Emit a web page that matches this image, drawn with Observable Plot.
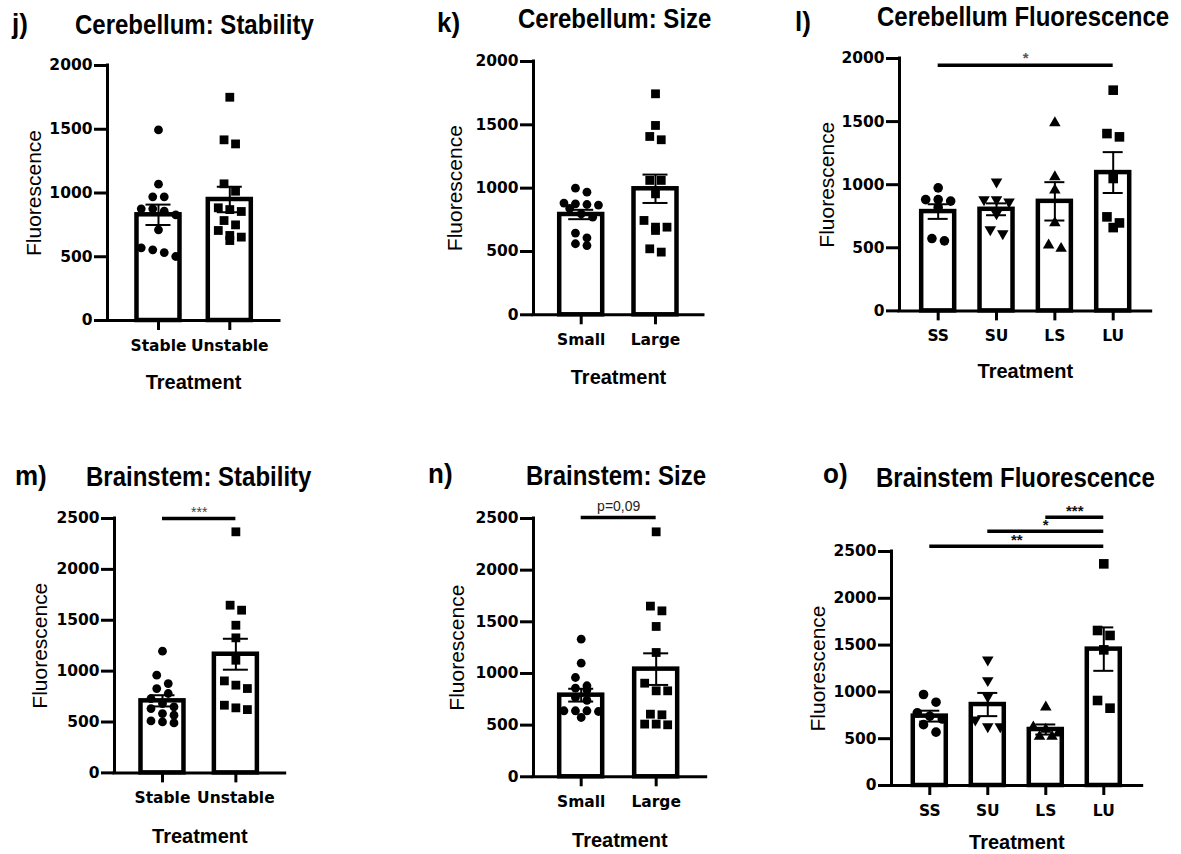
<!DOCTYPE html>
<html><head><meta charset="utf-8">
<script src="https://cdn.jsdelivr.net/npm/d3@7"></script>
<script src="https://cdn.jsdelivr.net/npm/@observablehq/plot@0.6"></script>
<style>
body{margin:0;background:#fff;}
#fig{position:relative;width:1181px;height:854px;background:#fff;overflow:hidden;}
.panel{position:absolute;}
.ttl{position:absolute;font-family:"Liberation Sans",Arial,sans-serif;line-height:1;white-space:nowrap;color:#000;}
</style></head><body><div id="fig"></div>
<script>
// ---------------- DATA ----------------
// y-axis ticks
const ticks2000 = [0, 500, 1000, 1500, 2000];
const ticks2500 = [0, 500, 1000, 1500, 2000, 2500];

// j) Cerebellum: Stability
const jCategories = ["Stable", "Unstable"];
const jStable = [1495, 1069, 970, 970, 876, 876, 857, 829, 711, 570, 554, 533, 502];
const jUnstable = [1751, 1417, 1385, 1072, 1014, 884, 870, 855, 784, 750, 706, 667, 654, 627];
const jMeans = [829, 949];
const jSEM = [80, 100];

// k) Cerebellum: Size
const kCategories = ["Small", "Large"];
const kSmall = [1000, 968, 882, 876, 871, 866, 840, 797, 771, 645, 608, 561, 547];
const kLarge = [1745, 1495, 1408, 1382, 1061, 1061, 955, 745, 692, 692, 666, 521, 495];
const kMeans = [792, 995];
const kSEM = [37, 112];

// l) Cerebellum Fluorescence
const lCategories = ["SS", "SU", "LS", "LU"];
const lSS = [975, 882, 882, 870, 820, 573, 555];
const lSU = [1022, 882, 882, 864, 771, 645, 613];
const lLS = [1490, 1062, 956, 697, 520, 494];
const lLU = [1749, 1405, 1379, 1049, 745, 697, 660];
const lMeans = [787, 805, 868, 1096];
const lSEM = [58, 47, 152, 162];
const lBracketFrom = ["SS"];
const lBracketTo = ["LU"];
const lBracketLevel = [1947];
const lBracketLabel = ["*"];

// m) Brainstem: Stability
const mCategories = ["Stable", "Unstable"];
const mStable = [1196, 960, 878, 829, 780, 730, 681, 649, 632, 583, 567, 511, 501, 491];
const mUnstable = [2369, 1648, 1599, 1451, 1327, 1107, 904, 862, 829, 665, 639, 622];
const mMeans = [708, 1166];
const mSEM = [55, 152];
const mBracketFrom = ["Stable"];
const mBracketTo = ["Unstable"];
const mBracketLevel = [2500];
const mBracketLabel = ["***"];

// n) Brainstem: Size
const nCategories = ["Small", "Large"];
const nSmall = [1332, 1100, 961, 881, 858, 840, 768, 740, 639, 639, 639, 632, 574];
const nLarge = [2371, 1652, 1606, 1455, 1203, 906, 832, 832, 606, 600, 510, 510, 503];
const nMeans = [790, 1042];
const nSEM = [62, 153];
const nBracketFrom = ["Small"];
const nBracketTo = ["Large"];
const nBracketLevel = [2510];
const nBracketLabel = ["p=0,09"];

// o) Brainstem Fluorescence
const oCategories = ["SS", "SU", "LS", "LU"];
const oSS = [972, 890, 776, 740, 710, 650, 570];
const oSU = [1342, 1122, 950, 702, 630, 630];
const oLS = [837, 623, 600, 560, 523, 523];
const oLU = [2368, 1656, 1603, 1449, 908, 826];
const oMeans = [741, 865, 598, 1457];
const oSEM = [58, 124, 54, 232];
const oBracketFrom = ["LS", "SU", "SS"];
const oBracketTo = ["LU", "LU", "LU"];
const oBracketLevel = [2866, 2717, 2557];
const oBracketLabel = ["***", "*", "**"];

// ---------------- SYMBOLS ----------------
const symCircle = {draw(ctx, size) { const r = Math.sqrt(size / Math.PI); ctx.moveTo(r, 0); ctx.arc(0, 0, r, 0, 2 * Math.PI); ctx.closePath(); }};
const symSquare = {draw(ctx, size) { const r = Math.sqrt(size / Math.PI); ctx.rect(-r, -r, 2 * r, 2 * r); }};
const symTriUp = {draw(ctx, size) { const r = Math.sqrt(size / Math.PI); const s = 2.4 * r, h = s * Math.sqrt(3) / 2; ctx.moveTo(0, -2 * h / 3); ctx.lineTo(s / 2, h / 3); ctx.lineTo(-s / 2, h / 3); ctx.closePath(); }};
const symTriDown = {draw(ctx, size) { const r = Math.sqrt(size / Math.PI); const s = 2.4 * r, h = s * Math.sqrt(3) / 2; ctx.moveTo(0, 2 * h / 3); ctx.lineTo(s / 2, -h / 3); ctx.lineTo(-s / 2, -h / 3); ctx.closePath(); }};

const LIB = "Liberation Sans, Arial, sans-serif";
const DJ = "DejaVu Sans, Verdana, sans-serif";

// Prism-like scatter layout: points of similar value share a row, spread horizontally
function layoutGroup(values, pxY, spacing, thresh, maxRow) {
  const sorted = [...values].sort((a, b) => b - a);
  const rows = [];
  let row = [];
  for (const v of sorted) {
    if (row.length && ((row[0] - v) * pxY > thresh || row.length >= maxRow)) { rows.push(row); row = []; }
    row.push(v);
  }
  if (row.length) rows.push(row);
  const out = [];
  for (const r of rows) r.forEach((v, i) => out.push({v, off: (i - (r.length - 1) / 2) * spacing}));
  return out;
}

const fig = document.getElementById("fig");

function drawPanel(cfg) {
  const {axisX, yTop, w, h, padL, padR, cats, groups, symbols, means, sems, ymax, yTicks,
         flDx, trDy, br, r, spacing, maxRow, barPx, capPx, brFont} = cfg;
  const n = cats.length;
  const mL = 100, mR = 24, mT = 56, mB = 84;
  const x0 = 1 - padL, x1 = n + padR;
  const pxX = w / (x1 - x0), pxY = h / ymax;
  const barHalf = barPx / 2 / pxX, capHalf = capPx / pxX;
  const bars = cats.map((c, i) => ({i: i + 1, mean: means[i], lo: means[i] - sems[i], hi: means[i] + sems[i]}));
  const idx = c => cats.indexOf(c) + 1;
  const dotMarks = groups.map((vals, gi) => {
    const pts = layoutGroup(vals, pxY, spacing, 9, maxRow).map(p => ({x: gi + 1 + p.off / pxX, y: p.v}));
    return Plot.dot(pts, {x: d => d.x, y: d => d.y, r, symbol: symbols[gi], fill: "black", stroke: "none"});
  });
  const brData = br ? br.from.map((f, k) => ({from: idx(f), to: idx(br.to[k]), level: br.level[k], label: br.label[k]})) : [];
  const svg = Plot.plot({
    width: w + mL + mR, height: h + mT + mB,
    marginLeft: mL, marginRight: mR, marginTop: mT, marginBottom: mB,
    style: {background: "transparent", overflow: "visible", color: "black"},
    x: {domain: [x0, x1], axis: null},
    y: {domain: [0, ymax], axis: null},
    marks: [
      Plot.rect(bars, {x1: d => d.i - barHalf, x2: d => d.i + barHalf, y1: 0, y2: d => d.mean, fill: "white", stroke: "black", strokeWidth: 4.5}),
      ...dotMarks,
      Plot.ruleX(bars, {x: d => d.i, y1: d => d.lo, y2: d => d.hi, strokeWidth: 2}),
      Plot.ruleY(bars, {y: d => d.hi, x1: d => d.i - capHalf, x2: d => d.i + capHalf, strokeWidth: 2}),
      Plot.ruleY(bars, {y: d => d.lo, x1: d => d.i - capHalf, x2: d => d.i + capHalf, strokeWidth: 2}),
      Plot.ruleY([0], {strokeWidth: 3, strokeLinecap: "square"}),
      Plot.ruleX([x0], {y1: 0, y2: ymax, strokeWidth: 3, strokeLinecap: "square"}),
      Plot.axisY({ticks: yTicks, tickSize: 13, tickPadding: 2, strokeWidth: 3, tickFormat: d => String(d), label: null,
                  fontFamily: DJ, fontWeight: "bold", fontSize: 15.5}),
      Plot.axisX({ticks: cats.map((c, i) => i + 1), tickFormat: i => cats[i - 1], tickSize: 10, tickPadding: 9, strokeWidth: 3, label: null,
                  fontFamily: DJ, fontWeight: "bold", fontSize: 15.5}),
      Plot.text(["Fluorescence"], {frameAnchor: "left", rotate: -90, dx: flDx, text: d => d, textAnchor: "middle", lineAnchor: "middle",
                  fontFamily: LIB, fontSize: 21, fontWeight: "normal", fill: "black"}),
      Plot.text(["Treatment"], {frameAnchor: "bottom", dy: trDy, text: d => d, textAnchor: "middle", lineAnchor: "middle",
                  fontFamily: LIB, fontSize: 20, fontWeight: "bold", fill: "black"}),
      Plot.ruleY(brData, {y: d => d.level, x1: d => d.from, x2: d => d.to, strokeWidth: 3.5}),
      Plot.text(brData, {x: d => (d.from + d.to) / 2, y: d => d.level, text: d => d.label, lineAnchor: "bottom",
                         dy: brFont.dy, fontFamily: LIB, fontSize: brFont.size, fontWeight: brFont.weight, fill: brFont.fill})
    ]
  });
  const div = document.createElement("div");
  div.className = "panel";
  div.style.left = (axisX - mL) + "px";
  div.style.top = (yTop - mT) + "px";
  div.style.width = (w + mL + mR) + "px";
  div.appendChild(svg);
  fig.appendChild(div);
}

function addText(txt, left, baseline, fs, weight, sy) {
  const d = document.createElement("div");
  d.className = "ttl";
  d.textContent = txt;
  d.style.left = left + "px";
  d.style.top = (baseline - 0.8465 * fs) + "px";
  d.style.fontSize = fs + "px";
  d.style.fontWeight = weight;
  if (sy) { d.style.transform = `scaleY(${sy})`; d.style.transformOrigin = "0 84.65%"; }
  fig.appendChild(d);
}

const two = {r: 4.4, spacing: 11.5, maxRow: 4, barPx: 43, capPx: 12.5};
const four = {r: 4.8, spacing: 12.5, maxRow: 3, barPx: 33, capPx: 10};

drawPanel({...two, axisX: 107, yTop: 65, w: 172, h: 255, padL: 0.715, padR: 0.697,
  cats: jCategories, groups: [jStable, jUnstable], symbols: [symCircle, symSquare], means: jMeans, sems: jSEM,
  ymax: 2000, yTicks: ticks2000, flDx: -73, trDy: 62, br: null, brFont: {}});
drawPanel({...two, axisX: 533, yTop: 61, w: 170, h: 253.3, padL: 0.642, padR: 0.646,
  cats: kCategories, groups: [kSmall, kLarge], symbols: [symCircle, symSquare], means: kMeans, sems: kSEM,
  ymax: 2000, yTicks: ticks2000, flDx: -78, trDy: 63, br: null, brFont: {}});
drawPanel({...four, axisX: 899, yTop: 58.3, w: 251.7, h: 252.4, padL: 0.663, padR: 0.651,
  cats: lCategories, groups: [lSS, lSU, lLS, lLU], symbols: [symCircle, symTriDown, symTriUp, symSquare], means: lMeans, sems: lSEM,
  ymax: 2000, yTicks: ticks2000, flDx: -72, trDy: 61,
  br: {from: lBracketFrom, to: lBracketTo, level: lBracketLevel, label: lBracketLabel},
  brFont: {size: 15, weight: "bold", fill: "#555", dy: -2}});
drawPanel({...two, axisX: 114.3, yTop: 518.3, w: 170.7, h: 254.4, padL: 0.654, padR: 0.672,
  cats: mCategories, groups: [mStable, mUnstable], symbols: [symCircle, symSquare], means: mMeans, sems: mSEM,
  ymax: 2500, yTicks: ticks2500, flDx: -74, trDy: 64,
  br: {from: mBracketFrom, to: mBracketTo, level: mBracketLevel, label: mBracketLabel},
  brFont: {size: 14, weight: "normal", fill: "#444", dy: -1}});
drawPanel({...two, axisX: 533.3, yTop: 517.7, w: 172.7, h: 258.3, padL: 0.636, padR: 0.667,
  cats: nCategories, groups: [nSmall, nLarge], symbols: [symCircle, symSquare], means: nMeans, sems: nSEM,
  ymax: 2500, yTicks: ticks2500, flDx: -76, trDy: 64,
  br: {from: nBracketFrom, to: nBracketTo, level: nBracketLevel, label: nBracketLabel},
  brFont: {size: 14, weight: "normal", fill: "#222", dy: -6}});
drawPanel({...four, axisX: 891, yTop: 551, w: 250.7, h: 234, padL: 0.66, padR: 0.662,
  cats: oCategories, groups: [oSS, oSU, oLS, oLU], symbols: [symCircle, symTriDown, symTriUp, symSquare], means: oMeans, sems: oSEM,
  ymax: 2500, yTicks: ticks2500, flDx: -73, trDy: 57,
  br: {from: oBracketFrom, to: oBracketTo, level: oBracketLevel, label: oBracketLabel},
  brFont: {size: 15, weight: "bold", fill: "#111", dy: -1}});

// Titles and panel letters
const panelLetters = ["j)", "k)", "l)", "m)", "n)", "o)"];
const panelTitles = ["Cerebellum: Stability", "Cerebellum: Size", "Cerebellum Fluorescence",
                     "Brainstem: Stability", "Brainstem: Size", "Brainstem Fluorescence"];
const letterPos = [[12, 33], [437, 32], [795, 31], [15, 485], [428, 483], [823, 483]];
const titlePos = [[75, 34], [518, 28.5], [877, 26], [86, 486.5], [526, 485], [876, 487]];
panelLetters.forEach((t, i) => addText(t, letterPos[i][0], letterPos[i][1], 26, "bold", 1.05));
panelTitles.forEach((t, i) => addText(t, titlePos[i][0], titlePos[i][1], 24, "bold", 1.12));
</script>
</body></html>
